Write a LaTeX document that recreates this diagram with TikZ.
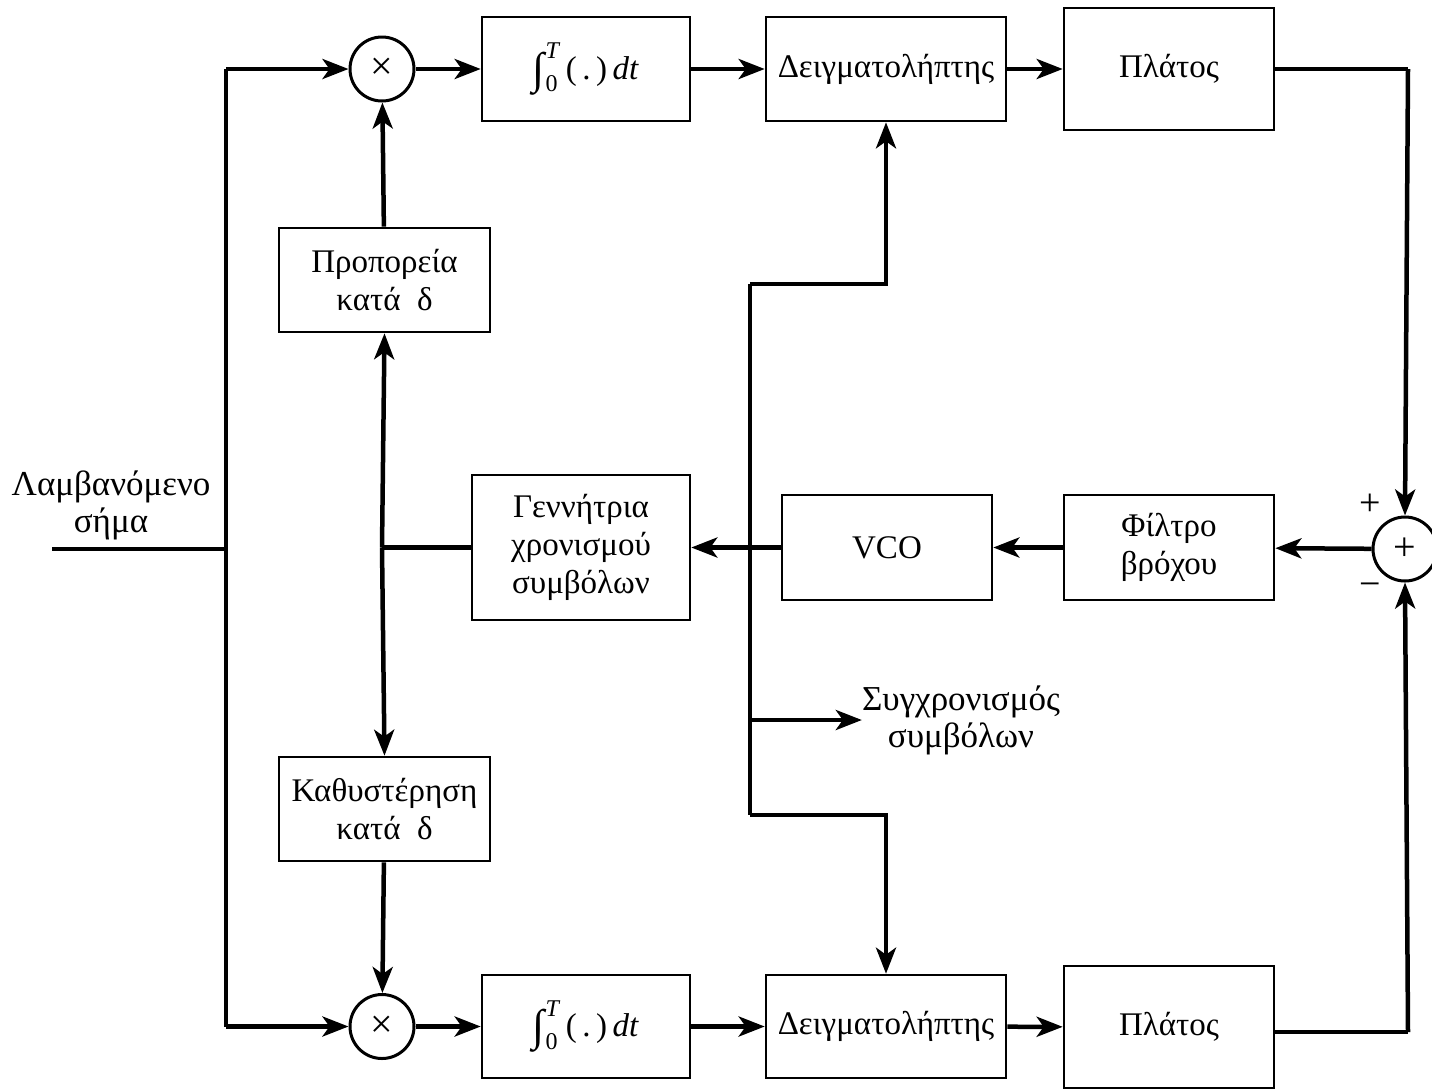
\documentclass[tikz,border=0pt]{standalone}
\usepackage{fontspec}
\setmainfont{Liberation Serif}
\usetikzlibrary{arrows.meta,calc}
\newcommand{\integ}{\raisebox{-0.12em}{\fontsize{44}{44}\selectfont ∫}\kern0.02em\rlap{\raisebox{0.62em}{\fontsize{24}{24}\selectfont\textit{T}}}\raisebox{-0.38em}{\fontsize{24}{24}\selectfont 0}\kern0.25em(\,.\,)\,\textit{dt}}
\begin{document}
\begin{tikzpicture}[x=1pt,y=-1pt,
  blk/.style={draw,line width=2.6pt,align=center,inner sep=0pt,font=\fontsize{33}{38}\selectfont},
  mixc/.style={draw,circle,line width=3pt,minimum size=64pt,inner sep=0pt,font=\fontsize{40}{40}\selectfont},
  wire/.style={line width=4.5pt},
  arr/.style={line width=4.5pt,-{Stealth[length=26pt,width=20pt,inset=7pt]}},
  lbl/.style={align=center,inner sep=0pt,font=\fontsize{35}{37}\selectfont}]
\useasboundingbox (0,0) rectangle (1432,1088);
% blocks
\node[blk,minimum width=208pt,minimum height=104pt] (int1) at (586,69) {\integ};
\node[blk,minimum width=240pt,minimum height=104pt] (smp1) at (886,69) {Δειγματολήπτης};
\node[blk,minimum width=210pt,minimum height=122pt] (amp1) at (1169,69) {Πλάτος};
\node[blk,minimum width=211pt,minimum height=104pt] (prop) at (384.5,280) {Προπορεία\\κατά\ \ δ};
\node[blk,minimum width=211pt,minimum height=104pt] (dly) at (384.5,809) {Καθυστέρηση\\κατά\ \ δ};
\node[blk,minimum width=218pt,minimum height=145pt] (gen) at (581,547.5) {Γεννήτρια\\χρονισμού\\ συμβόλων};
\node[blk,minimum width=210pt,minimum height=105pt] (vco) at (887,547.5) {VCO};
\node[blk,minimum width=210pt,minimum height=105pt] (lf) at (1169,547.5) {Φίλτρο\\βρόχου};
\node[blk,minimum width=208pt,minimum height=103pt] (int2) at (586,1026.5) {\integ};
\node[blk,minimum width=240pt,minimum height=103pt] (smp2) at (886,1026.5) {Δειγματολήπτης};
\node[blk,minimum width=210pt,minimum height=122pt] (amp2) at (1169,1027) {Πλάτος};
% circles
\node[mixc] (mix1) at (382,69) {×};
\node[mixc] (mix2) at (382,1026.5) {×};
\node[mixc] (sum) at (1405,549) {+};
\node[lbl,font=\fontsize{38}{38}\selectfont] (plus) at (1370,505) {+};
\node[lbl,font=\fontsize{38}{38}\selectfont] (minus) at (1370,590) {−};
% labels
\node[lbl] (rx) at (111,505) {Λαμβανόμενο\\σήμα};
\node[lbl] (sync) at (961,720) {Συγχρονισμός\\συμβόλων};
% coordinates
\coordinate (in) at (52,549);
\coordinate (ja) at (226,549);
\coordinate (jt) at (226,69);
\coordinate (jb) at (226,1026.5);
\coordinate (jg) at (382,547.5);
\coordinate (vt) at (750,284);
\coordinate (vb) at (750,815);
\coordinate (vs) at (750,720);
\coordinate (rt) at (1408,69);
\coordinate (rb) at (1408,1032);
% input distribution
\draw[wire] (in) -- (ja);
\draw[wire] (jt) -- (jb);
\draw[arr] (jt) -- (mix1.west);
\draw[arr] (jb) -- (mix2.west);
% top row
\draw[arr] (mix1) -- (int1);
\draw[arr] (int1) -- (smp1);
\draw[arr] (smp1) -- (amp1);
\draw[wire] (amp1.east) -- (rt);
\draw[arr] (rt) -- (sum.north);
% bottom row
\draw[arr] (mix2) -- (int2);
\draw[arr] (int2) -- (smp2);
\draw[arr] (smp2) -- (amp2);
\draw[wire] (amp2.east|-rb) -- (rb);
\draw[arr] (rb) -- (sum.south);
% loop
\draw[arr] (sum) -- (lf);
\draw[arr] (lf) -- (vco);
\draw[arr] (vco) -- (gen);
\draw[wire] (gen.west) -- (jg);
\draw[arr] (jg) -- (prop.south);
\draw[arr] (jg) -- (dly.north);
\draw[arr] (prop) -- (mix1);
\draw[arr] (dly) -- (mix2);
% timing to samplers
\draw[wire] (vt) -- (vb);
\draw[arr] (vt) -- (vt-|smp1) -- (smp1.south);
\draw[arr] (vb) -- (vb-|smp2) -- (smp2.north);
\draw[arr] (vs) -- (sync.west|-vs);
\end{tikzpicture}
\end{document}
